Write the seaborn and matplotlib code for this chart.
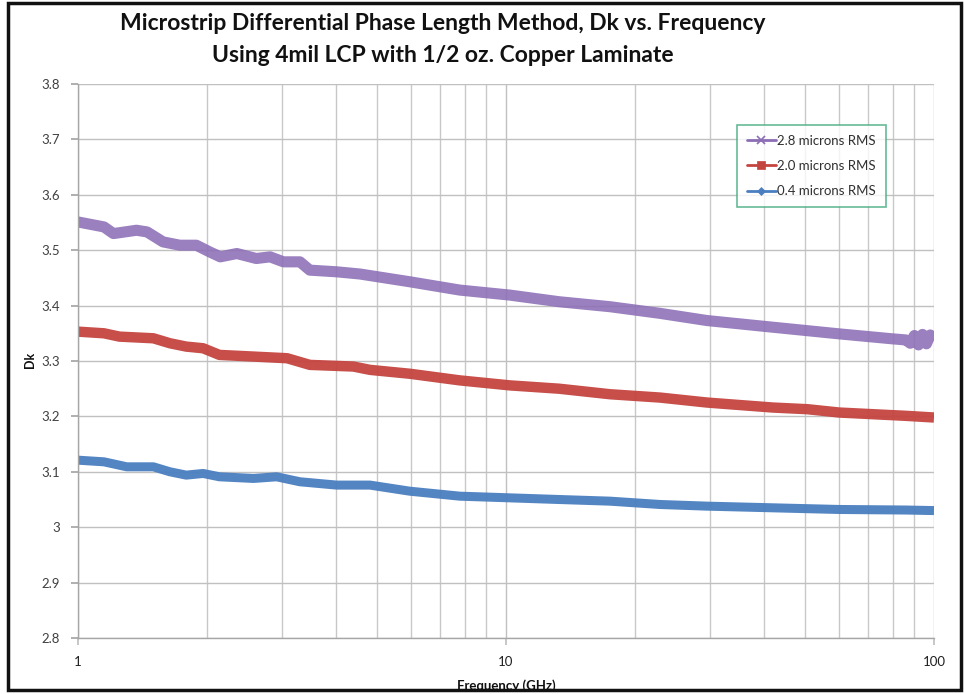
import matplotlib
matplotlib.use("Agg")
import matplotlib.pyplot as plt
import matplotlib.ticker as mticker
from matplotlib.lines import Line2D
from matplotlib.patches import Rectangle
import numpy as np
import pandas as pd
import seaborn as sns

# ---------------- data ----------------
series_names = ["2.8 microns RMS", "2.0 microns RMS", "0.4 microns RMS"]

freq_28 = [1.0, 1.15, 1.21, 1.37, 1.45, 1.58, 1.73, 1.89, 2.03, 2.15, 2.35, 2.61, 2.81,
           3.02, 3.30, 3.48, 4.02, 4.56, 5.96, 7.8, 10.2, 13.3, 17.5, 22.9, 29.5, 42,
           60, 80, 86, 88, 90, 92, 94, 96, 98, 100]
dk_28 = [3.551, 3.542, 3.530, 3.536, 3.533, 3.515, 3.509, 3.509, 3.497, 3.488, 3.494,
         3.485, 3.488, 3.479, 3.479, 3.464, 3.461, 3.457, 3.443, 3.428, 3.419, 3.407,
         3.398, 3.386, 3.373, 3.361, 3.349, 3.340, 3.338, 3.332, 3.346, 3.329, 3.348,
         3.331, 3.347, 3.338]

freq_20 = [1.0, 1.15, 1.25, 1.5, 1.64, 1.79, 1.96, 2.14, 2.57, 3.08, 3.48, 4.40, 4.81,
           5.96, 7.8, 10.2, 13.3, 17.5, 22.9, 29.5, 42, 50.6, 60, 86, 100]
dk_20 = [3.353, 3.350, 3.344, 3.341, 3.332, 3.326, 3.323, 3.311, 3.308, 3.305, 3.293,
         3.290, 3.284, 3.277, 3.265, 3.256, 3.250, 3.240, 3.234, 3.225, 3.216, 3.213,
         3.207, 3.201, 3.198]

freq_04 = [1.0, 1.15, 1.30, 1.5, 1.64, 1.79, 1.96, 2.14, 2.57, 2.91, 3.30, 4.02, 4.81,
           5.96, 7.8, 10.2, 13.3, 17.5, 22.9, 29.5, 42, 60, 86, 100]
dk_04 = [3.121, 3.118, 3.109, 3.109, 3.100, 3.094, 3.097, 3.091, 3.088, 3.091, 3.082,
         3.076, 3.076, 3.065, 3.056, 3.053, 3.050, 3.047, 3.041, 3.038, 3.035, 3.032,
         3.031, 3.030]

x_ticks = [1, 10, 100]
x_ticklabels = ["1", "10", "100"]
y_ticks = [2.8, 2.9, 3.0, 3.1, 3.2, 3.3, 3.4, 3.5, 3.6, 3.7, 3.8]
y_ticklabels = ["2.8", "2.9", "3", "3.1", "3.2", "3.3", "3.4", "3.5", "3.6", "3.7", "3.8"]

title_lines = ["Microstrip Differential Phase Length Method, Dk vs. Frequency",
               "Using 4mil LCP with 1/2 oz. Copper Laminate"]
x_label = "Frequency (GHz)"
y_label = "Dk"

colors = {"2.8 microns RMS": "#8C6EB6", "2.0 microns RMS": "#C4443F",
          "0.4 microns RMS": "#4A7EC0"}
markers = {"2.8 microns RMS": "x", "2.0 microns RMS": "s", "0.4 microns RMS": "D"}
widths = {"2.8 microns RMS": 8.0, "2.0 microns RMS": 7.5, "0.4 microns RMS": 6.5}

# ---------------- build table ----------------
df = pd.concat([
    pd.DataFrame({"freq": freq_28, "dk": dk_28, "series": series_names[0]}),
    pd.DataFrame({"freq": freq_20, "dk": dk_20, "series": series_names[1]}),
    pd.DataFrame({"freq": freq_04, "dk": dk_04, "series": series_names[2]}),
], ignore_index=True)

sns.set_theme(style="white")
plt.rcParams["font.family"] = ["Lato", "DejaVu Sans"]

fig = plt.figure(figsize=(9.64, 6.94), dpi=100)
ax = fig.add_axes([78 / 964, 1 - 638 / 694, (934 - 78) / 964, (638 - 84) / 694])

for name in series_names:
    sub = df[df["series"] == name]
    sns.lineplot(data=sub, x="freq", y="dk", ax=ax, color=colors[name],
                 linewidth=widths[name], legend=False, sort=False,
                 solid_capstyle="butt", solid_joinstyle="round",
                 alpha=0.95 if name != series_names[0] else 0.88)

ax.set_xscale("log")
ax.set_xlim(1, 100)
ax.set_ylim(2.8, 3.8)
ax.set_xticks(x_ticks)
ax.set_xticklabels(x_ticklabels)
ax.xaxis.set_minor_locator(mticker.LogLocator(base=10, subs=np.arange(2, 10)))
ax.xaxis.set_minor_formatter(mticker.NullFormatter())
ax.set_yticks(y_ticks)
ax.set_yticklabels(y_ticklabels)

ax.grid(which="major", axis="both", color="#C0C0C0", linewidth=1.0)
ax.grid(which="minor", axis="x", color="#C8C8C8", linewidth=1.0)
ax.set_axisbelow(True)
for s in ["top", "right"]:
    ax.spines[s].set_visible(False)
for s in ["left", "bottom"]:
    ax.spines[s].set_color("#A6A6A6")
    ax.spines[s].set_linewidth(1.0)

ax.tick_params(axis="y", which="major", direction="out", length=5, color="#A6A6A6",
               labelsize=9.5, labelcolor="#404040", pad=8, left=True)
ax.tick_params(axis="x", which="major", direction="out", length=5, color="#C0C0C0",
               labelsize=9.5, labelcolor="#202020", pad=8, bottom=True)
ax.tick_params(axis="x", which="minor", length=0)
ax.set_xlabel("")
ax.set_ylabel("")

# legend
handles = [Line2D([0], [0], color=colors[n], lw=2, marker=markers[n],
                  markersize=6 if n != series_names[2] else 4,
                  markeredgewidth=1.2 if n == series_names[0] else 0.5)
           for n in series_names]
leg = ax.legend(handles, series_names, loc="upper left",
                bbox_to_anchor=((737 - 78) / 856, (638 - 125) / 554),
                frameon=True, fancybox=False, fontsize=9.5, handlelength=2.2,
                handletextpad=0.1, labelspacing=1.0, borderpad=0.75,
                borderaxespad=0)
leg.get_frame().set_edgecolor("#3FA97C")
leg.get_frame().set_linewidth(1.2)
for t in leg.get_texts():
    t.set_color("#303030")

# titles and axis labels
fig.text(443 / 964, 1 - 23 / 694, title_lines[0], ha="center", va="center",
         fontsize=16.5, fontweight="bold", color="#111111")
fig.text(443 / 964, 1 - 56 / 694, title_lines[1], ha="center", va="center",
         fontsize=16.5, fontweight="bold", color="#111111")
fig.text(30 / 964, 1 - 360 / 694, y_label, ha="center", va="center", rotation=90,
         fontsize=9, fontweight="bold", color="#111111")
fig.text(506 / 964, 1 - 686 / 694, x_label, ha="center", va="center",
         fontsize=9.5, fontweight="bold", color="#111111")

# outer black frame
fig.patches.append(Rectangle((8 / 964, 1 - 690 / 694), (961 - 8) / 964, (690 - 3) / 694,
                             transform=fig.transFigure, fill=False, edgecolor="#111111",
                             linewidth=2.5, zorder=10))

fig.savefig("out.png", dpi=100)
